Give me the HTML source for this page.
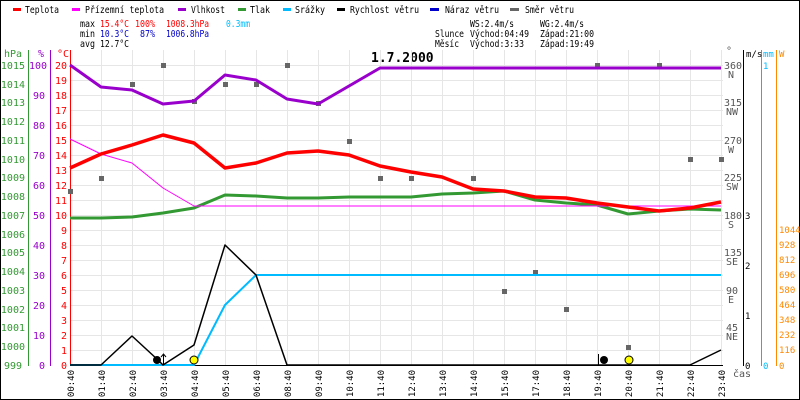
<!DOCTYPE html>
<html><head><meta charset="utf-8"><style>
body{margin:0;background:#fff}
svg{display:block;font-family:"DejaVu Sans Mono","Liberation Mono",monospace;font-size:10px}
</style></head><body>
<svg width="800" height="400" viewBox="0 0 800 400" xmlns="http://www.w3.org/2000/svg">
<rect x="0.5" y="0.5" width="799" height="399" fill="#fff" stroke="#000"/>
<!-- legend -->
<g font-size="10" lengthAdjust="spacingAndGlyphs">
<rect x="13" y="8" width="8" height="3" fill="#f00"/><text x="25" y="13" textLength="34" lengthAdjust="spacingAndGlyphs">Teplota</text>
<rect x="72" y="8" width="8" height="3" fill="#f0f"/><text x="85" y="13" textLength="79" lengthAdjust="spacingAndGlyphs">Přízemní teplota</text>
<rect x="178" y="8" width="8" height="3" fill="#90c"/><text x="191" y="13" textLength="34" lengthAdjust="spacingAndGlyphs">Vlhkost</text>
<rect x="238" y="8" width="8" height="3" fill="#393"/><text x="250" y="13" textLength="20" lengthAdjust="spacingAndGlyphs">Tlak</text>
<rect x="283" y="8" width="8" height="3" fill="#0bf"/><text x="295" y="13" textLength="30" lengthAdjust="spacingAndGlyphs">Srážky</text>
<rect x="337" y="8" width="8" height="3" fill="#000"/><text x="350" y="13" textLength="69" lengthAdjust="spacingAndGlyphs">Rychlost větru</text>
<rect x="430" y="8" width="9" height="3" fill="#00c"/><text x="445" y="13" textLength="54" lengthAdjust="spacingAndGlyphs">Náraz větru</text>
<rect x="510" y="8" width="9" height="3" fill="#666"/><text x="525" y="13" textLength="49" lengthAdjust="spacingAndGlyphs">Směr větru</text>
</g>
<g font-size="10">
<text x="80" y="27" textLength="15" lengthAdjust="spacingAndGlyphs">max</text>
<text x="100" y="27" fill="#f00" textLength="29" lengthAdjust="spacingAndGlyphs">15.4°C</text>
<text x="135" y="27" fill="#f00" textLength="20" lengthAdjust="spacingAndGlyphs">100%</text>
<text x="166" y="27" fill="#f00" textLength="43" lengthAdjust="spacingAndGlyphs">1008.3hPa</text>
<text x="226" y="27" fill="#0bf" textLength="24" lengthAdjust="spacingAndGlyphs">0.3mm</text>
<text x="80" y="37" textLength="15" lengthAdjust="spacingAndGlyphs">min</text>
<text x="100" y="37" fill="#00c" textLength="29" lengthAdjust="spacingAndGlyphs">10.3°C</text>
<text x="140" y="37" fill="#00c" textLength="15" lengthAdjust="spacingAndGlyphs">87%</text>
<text x="166" y="37" fill="#00c" textLength="43" lengthAdjust="spacingAndGlyphs">1006.8hPa</text>
<text x="80" y="47" textLength="15" lengthAdjust="spacingAndGlyphs">avg</text>
<text x="100" y="47" textLength="29" lengthAdjust="spacingAndGlyphs">12.7°C</text>
<text x="470" y="27" textLength="44" lengthAdjust="spacingAndGlyphs">WS:2.4m/s</text>
<text x="540" y="27" textLength="44" lengthAdjust="spacingAndGlyphs">WG:2.4m/s</text>
<text x="435" y="37" textLength="29" lengthAdjust="spacingAndGlyphs">Slunce</text>
<text x="470" y="37" textLength="59" lengthAdjust="spacingAndGlyphs">Východ:04:49</text>
<text x="540" y="37" textLength="54" lengthAdjust="spacingAndGlyphs">Západ:21:00</text>
<text x="435" y="47" textLength="24" lengthAdjust="spacingAndGlyphs">Měsíc</text>
<text x="470" y="47" textLength="54" lengthAdjust="spacingAndGlyphs">Východ:3:33</text>
<text x="540" y="47" textLength="54" lengthAdjust="spacingAndGlyphs">Západ:19:49</text>
</g>
<text x="371" y="62" font-size="13" font-weight="bold">1.7.2000</text>
<!-- grid -->
<g stroke="#e6e6e6" stroke-width="1">
<path d="M70 65.5H723M70 80.5H723M70 95.5H723M70 110.5H723M70 125.5H723M70 140.5H723M70 155.5H723M70 170.5H723M70 185.5H723M70 200.5H723M70 215.5H723M70 230.5H723M70 245.5H723M70 260.5H723M70 275.5H723M70 290.5H723M70 305.5H723M70 320.5H723M70 335.5H723M70 350.5H723"/>
<path d="M101.5 50V365M132.5 50V365M163.5 50V365M194.5 50V365M225.5 50V365M256.5 50V365M287.5 50V365M318.5 50V365M349.5 50V365M380.5 50V365M411.5 50V365M442.5 50V365M473.5 50V365M504.5 50V365M535.5 50V365M566.5 50V365M597.5 50V365M628.5 50V365M659.5 50V365M690.5 50V365M721.5 50V365"/>
</g>
<!-- left axes -->
<g font-size="10">
<text x="4" y="57" fill="#393">hPa</text><text x="38" y="57" fill="#90c">%</text><text x="57" y="57" fill="#f00">°C</text>
<line x1="28.5" y1="50" x2="28.5" y2="366" stroke="#393"/>
<line x1="50.5" y1="50" x2="50.5" y2="366" stroke="#90c"/>
<line x1="70.5" y1="50" x2="70.5" y2="366" stroke="#f00"/>
<g fill="#393" text-anchor="end">
<text x="25" y="69">1015</text><text x="25" y="88">1014</text><text x="25" y="106">1013</text><text x="25" y="125">1012</text><text x="25" y="144">1011</text><text x="25" y="163">1010</text><text x="25" y="181">1009</text><text x="25" y="200">1008</text><text x="25" y="219">1007</text><text x="25" y="238">1006</text><text x="25" y="256">1005</text><text x="25" y="275">1004</text><text x="25" y="294">1003</text><text x="25" y="313">1002</text><text x="25" y="331">1001</text><text x="25" y="350">1000</text><text x="22" y="369">999</text>
</g>
<g fill="#90c" text-anchor="end">
<text x="47" y="69">100</text><text x="45" y="99">90</text><text x="45" y="129">80</text><text x="45" y="159">70</text><text x="45" y="189">60</text><text x="45" y="219">50</text><text x="45" y="249">40</text><text x="45" y="279">30</text><text x="45" y="309">20</text><text x="45" y="339">10</text><text x="45" y="369">0</text>
</g>
<g fill="#f00" text-anchor="end">
<text x="67" y="69">20</text><text x="67" y="84">19</text><text x="67" y="99">18</text><text x="67" y="114">17</text><text x="67" y="129">16</text><text x="67" y="144">15</text><text x="67" y="159">14</text><text x="67" y="174">13</text><text x="67" y="189">12</text><text x="67" y="204">11</text><text x="67" y="219">10</text><text x="67" y="234">9</text><text x="67" y="249">8</text><text x="67" y="264">7</text><text x="67" y="279">6</text><text x="67" y="294">5</text><text x="67" y="309">4</text><text x="67" y="324">3</text><text x="67" y="339">2</text><text x="67" y="354">1</text><text x="67" y="369">0</text>
</g>
</g>
<!-- right axes -->
<g font-size="10" fill="#555">
<text x="726" y="54">°</text>
<text x="724" y="69">360</text><text x="728" y="78">N</text>
<text x="724" y="106">315</text><text x="726" y="115">NW</text>
<text x="724" y="144">270</text><text x="728" y="153">W</text>
<text x="724" y="181">225</text><text x="726" y="190">SW</text>
<text x="724" y="219">180</text><text x="728" y="228">S</text>
<text x="724" y="256">135</text><text x="726" y="265">SE</text>
<text x="726" y="294">90</text><text x="728" y="303">E</text>
<text x="726" y="331">45</text><text x="726" y="340">NE</text>
<text x="733" y="377">čas</text>
</g>
<line x1="743.5" y1="50" x2="743.5" y2="366" stroke="#000"/>
<line x1="761.5" y1="50" x2="761.5" y2="366" stroke="#0bf"/>
<line x1="776.5" y1="50" x2="776.5" y2="366" stroke="#f80"/>
<g font-size="9">
<text x="746" y="57">m/s</text><text x="763" y="57" fill="#0bf">mm</text><text x="779" y="57" fill="#f80">W</text>
<text x="745" y="219">3</text><text x="745" y="269">2</text><text x="745" y="319">1</text><text x="745" y="369">0</text>
<text x="763" y="69" fill="#0bf">1</text><text x="763" y="369" fill="#0bf">0</text>
<g fill="#f80"><text x="779" y="233">1044</text><text x="779" y="248">928</text><text x="779" y="263">812</text><text x="779" y="278">696</text><text x="779" y="293">580</text><text x="779" y="308">464</text><text x="779" y="323">348</text><text x="779" y="338">232</text><text x="779" y="353">116</text><text x="779" y="369">0</text></g>
</g>
<!-- bottom axis -->
<line x1="70" y1="365.5" x2="723" y2="365.5" stroke="#000"/>
<g font-size="9" text-anchor="end">
<text transform="translate(74,370) rotate(-90)">00:40</text><text transform="translate(105,370) rotate(-90)">01:40</text><text transform="translate(136,370) rotate(-90)">02:40</text><text transform="translate(167,370) rotate(-90)">03:40</text><text transform="translate(198,370) rotate(-90)">04:40</text><text transform="translate(229,370) rotate(-90)">05:40</text><text transform="translate(260,370) rotate(-90)">06:40</text><text transform="translate(291,370) rotate(-90)">08:40</text><text transform="translate(322,370) rotate(-90)">09:40</text><text transform="translate(353,370) rotate(-90)">10:40</text><text transform="translate(384,370) rotate(-90)">11:40</text><text transform="translate(415,370) rotate(-90)">12:40</text><text transform="translate(446,370) rotate(-90)">13:40</text><text transform="translate(477,370) rotate(-90)">14:40</text><text transform="translate(508,370) rotate(-90)">15:40</text><text transform="translate(539,370) rotate(-90)">17:40</text><text transform="translate(570,370) rotate(-90)">18:40</text><text transform="translate(601,370) rotate(-90)">19:40</text><text transform="translate(632,370) rotate(-90)">20:40</text><text transform="translate(663,370) rotate(-90)">21:40</text><text transform="translate(694,370) rotate(-90)">22:40</text><text transform="translate(725,370) rotate(-90)">23:40</text>
</g>
<!-- wind direction squares -->
<g fill="#666">
<rect x="68" y="189" width="5" height="5"/><rect x="99" y="176" width="5" height="5"/><rect x="130" y="82" width="5" height="5"/><rect x="161" y="63" width="5" height="5"/><rect x="192" y="99" width="5" height="5"/><rect x="223" y="82" width="5" height="5"/><rect x="254" y="82" width="5" height="5"/><rect x="285" y="63" width="5" height="5"/><rect x="316" y="101" width="5" height="5"/><rect x="347" y="139" width="5" height="5"/><rect x="378" y="176" width="5" height="5"/><rect x="409" y="176" width="5" height="5"/><rect x="471" y="176" width="5" height="5"/><rect x="502" y="289" width="5" height="5"/><rect x="533" y="270" width="5" height="5"/><rect x="564" y="307" width="5" height="5"/><rect x="595" y="63" width="5" height="5"/><rect x="626" y="345" width="5" height="5"/><rect x="657" y="63" width="5" height="5"/><rect x="688" y="157" width="5" height="5"/><rect x="719" y="157" width="5" height="5"/>
</g>
<!-- series -->
<g fill="none" stroke-linejoin="round">
<polyline stroke="#393" stroke-width="3" points="70,218 101,218 132,217 163,213 194,208 225,195 256,196 287,198 318,198 349,197 380,197 411,197 442,194 473,193 504,191 535,200 566,203 597,205 628,214 659,211 690,209 721,210"/>
<polyline stroke="#f0f" stroke-width="1" points="70,139 101,154 132,163 163,188 194,206 721,206"/>
<polyline stroke="#90c" stroke-width="3" points="70,65 101,87 132,90 163,104 194,101 225,75 256,80 287,99 318,104 349,86 380,68 721,68"/>
<polyline stroke="#f00" stroke-width="3.5" points="70,168 101,154 132,145 163,135 194,143 225,168 256,163 287,153 318,151 349,155 380,166 411,172 442,177 473,189 504,191 535,197 566,198 597,203 628,207 659,211 690,208 721,202"/>
<polyline stroke="#0bf" stroke-width="2" points="70,365 194,365 225,305 256,275 721,275"/>
<polyline stroke="#000" stroke-width="1.5" points="70,365 101,365 132,336 158,360 163,365 194,345 225,245 256,275 287,365 690,365 721,350"/>
</g>
<!-- markers -->
<circle cx="157" cy="360" r="4" fill="#000"/>
<path d="M163.5 365V355M161 357L163.5 354L166 357" stroke="#000" fill="none"/>
<circle cx="194" cy="360" r="4" fill="#ff0" stroke="#000"/>
<path d="M598.5 365V354" stroke="#000"/>
<circle cx="604" cy="360" r="4" fill="#000"/>
<circle cx="629" cy="360" r="4" fill="#ff0" stroke="#000"/>
</svg>
</body></html>
